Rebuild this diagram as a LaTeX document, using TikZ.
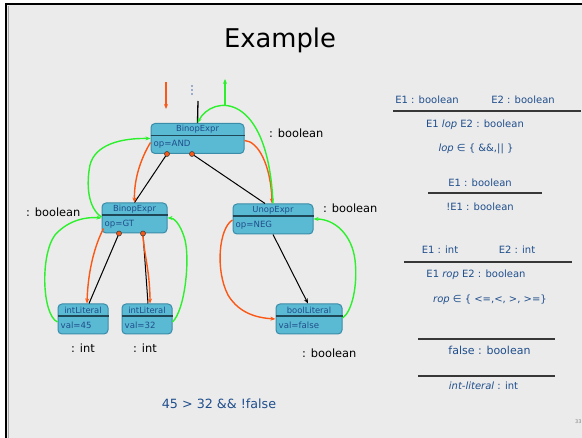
\documentclass[tikz,border=0pt]{standalone}
\usepackage{fontspec}
\setmainfont{DejaVu Sans}
\usetikzlibrary{arrows.meta,calc}

\definecolor{slidebg}{RGB}{235,235,235}
\definecolor{nodefill}{RGB}{91,186,211}
\definecolor{nodeedge}{RGB}{58,140,168}
\definecolor{nodesep}{RGB}{30,72,88}
\definecolor{textblue}{RGB}{31,78,140}
\definecolor{flowgreen}{RGB}{45,240,45}
\definecolor{floworange}{RGB}{250,88,20}
\definecolor{rulegray}{RGB}{55,55,55}

\tikzset{
  astbox/.style={draw=nodeedge, line width=1pt, fill=nodefill, rounded corners=4pt,
    minimum height=30pt, inner sep=0pt},
  sepline/.style={draw=nodesep, line width=1.5pt},
  asttitle/.style={text=textblue, font=\fontsize{8.4}{10}\selectfont, inner sep=0pt},
  astbody/.style={text=textblue, font=\fontsize{8.6}{10}\selectfont, inner sep=0pt, anchor=west},
  portdot/.style={circle, fill=floworange, draw=black!75, line width=0.6pt, inner sep=0pt, minimum size=5pt},
  elldot/.style={circle, fill=textblue!80, inner sep=0pt, minimum size=1.6pt},
  tip/.style={-{Stealth[length=5pt,width=4pt]}},
  greenflow/.style={draw=flowgreen, line width=1.4pt, tip},
  orangeflow/.style={draw=floworange, line width=1.4pt, tip},
  childedge/.style={draw=black, line width=1pt},
  typelabel/.style={text=black, font=\fontsize{11.4}{13}\selectfont, inner sep=0pt, anchor=west},
  ruletext/.style={text=textblue, font=\fontsize{10}{12}\selectfont, inner sep=0pt},
  ruleline/.style={draw=rulegray, line width=1.2pt},
}

% one AST node: name, centre x, centre y, width, class name, attribute
\newcommand\astnode[6]{%
  \node[astbox, minimum width=#4pt] (#1) at (#2,#3) {};
  \draw[sepline] ($(#1.north west)+(0,12.5)$) -- ($(#1.north east)+(0,12.5)$);
  \node[asttitle] (#1-title) at ($(#1.north)+(0,6.5)$) {#5};
  \node[astbody] (#1-body) at ($(#1.north west)+(3,21.5)$) {#6};
}

\begin{document}
\begin{tikzpicture}[x=1pt, y=-1pt]
\useasboundingbox (0,0) rectangle (582,438);

% slide background and frame
\fill[white] (0,0) rectangle (582,438);
\fill[slidebg] (6,4) rectangle (582,438);
\draw[gray!70, line width=1pt] (8.5,438) -- (8.5,6);
\draw[black, line width=2.5pt] (6,438) -- (6,4) -- (582,4);

% title
\node[font=\fontsize{25.8}{30}\selectfont, inner sep=0pt] (title) at (280,40) {Example};

% AST nodes
\astnode{and}{197.5}{138.5}{93}{BinopExpr}{op=AND}
\astnode{gt}{134.5}{218}{65}{BinopExpr}{op=GT}
\astnode{unop}{273}{219}{80}{UnopExpr}{op=NEG}
\astnode{ilA}{83}{319}{50}{intLiteral}{val=45}
\astnode{ilB}{147}{319}{50}{intLiteral}{val=32}
\astnode{bl}{309}{319}{66}{boolLiteral}{val=false}

% attribute ports
\coordinate (and-p1) at ($(and.south)+(-30.5,0)$);
\coordinate (and-p2) at ($(and.south)+(-5.5,0)$);
\coordinate (gt-p1) at ($(gt.south)+(-15.5,0)$);
\coordinate (gt-p2) at ($(gt.south)+(8.5,0)$);

% context above the root
\coordinate (inhTop) at (166,82);
\coordinate (inhEnd) at (166,109);
\coordinate (parentIn) at (198,101);
\coordinate (synStart) at (225,105);
\coordinate (synEnd) at (225,79);
\node[elldot] (ell1) at (192,86) {};
\node[elldot] (ell2) at (192,90) {};
\node[elldot] (ell3) at (192,94) {};

\draw[orangeflow] (inhTop) -- (inhEnd);
\draw[childedge, line width=1.3pt] (parentIn) -- (and.north);
\draw[greenflow] (synStart) -- (synEnd);

% tree edges
\draw[childedge] (and-p1) -- (gt.north);
\draw[childedge] (and-p2) -- ($(unop.north)+(-8,0)$);
\draw[childedge] (gt-p1) -- ($(ilA.north)+(6,0)$);
\draw[childedge] (gt-p2) -- ($(ilB.north)+(1,0)$);
\draw[childedge, tip] (unop.south) -- ($(bl.north)+(-1,0)$);

% inherited flow (orange)
\draw[orangeflow] ($(and.west)+(0,4)$) .. controls (140,160) and (134,180) .. (gt.north);
\draw[orangeflow] ($(and.east)+(0,2)$) .. controls (258,141) and (271,165) .. ($(unop.north)+(-1,0)$);
\draw[orangeflow] ($(gt.south west)+(2,-5)$) .. controls (95,245) and (88,270) .. ($(ilA.north)+(4,0)$);
\draw[orangeflow] (gt-p2) .. controls (143,250) and (150,270) .. ($(ilB.north)+(3,0)$);
\draw[orangeflow] ($(unop.west)+(0,1)$) .. controls (219,228) and (215,270) .. (228,295)
  .. controls (240,315) and (260,318) .. (bl.west);

% synthesized flow (green)
\draw[greenflow] (unop.north) .. controls (268,90) and (212,95) .. (and.north);
\draw[greenflow] ($(gt.west)+(0,-1)$) .. controls (88,208) and (86,185) .. (90,165)
  .. controls (95,145) and (120,138) .. (and.west);
\draw[greenflow] ($(ilA.west)+(0,3)$) .. controls (42,315) and (40,255) .. (55,235)
  .. controls (70,218) and (90,217) .. (gt.west);
\draw[greenflow] ($(ilB.east)+(0,3)$) .. controls (185,310) and (190,260) .. (185,240)
  .. controls (180,222) and (173,218) .. (gt.east);
\draw[greenflow] ($(bl.east)+(0,-1)$) .. controls (352,312) and (358,285) .. (355,260)
  .. controls (352,235) and (335,219) .. (unop.east);

% port dots on top
\node[portdot] (and-d1) at (and-p1) {};
\node[portdot] (and-d2) at (and-p2) {};
\node[portdot] (gt-d1) at (gt-p1) {};
\node[portdot] (gt-d2) at (gt-p2) {};

% type annotations
\node[typelabel] (t-and) at (269,133) {: boolean};
\node[typelabel] (t-gt) at (26,212) {: boolean};
\node[typelabel] (t-unop) at (323,208) {: boolean};
\node[typelabel] (t-ilA) at (71,348) {: int};
\node[typelabel] (t-ilB) at (133,348) {: int};
\node[typelabel] (t-bl) at (302,353) {: boolean};

% expression
\node[text=textblue, font=\fontsize{12.7}{15}\selectfont, inner sep=0pt] (expr) at (219,404) {45 > 32 \&\& !false};

% typing rules
\node[ruletext] (r1a) at (427,100) {E1 : boolean};
\node[ruletext] (r1b) at (523,100) {E2 : boolean};
\draw[ruleline] (393,111) -- (581,111);
\node[ruletext] (r1c) at (475,125) {E1 \textit{lop} E2 : boolean};
\node[ruletext] (r1d) at (476,149) {\textit{lop} ∈ \{ \&\&,|| \}};

\node[ruletext] (r2a) at (480,183) {E1 : boolean};
\draw[ruleline] (428,193) -- (542,193);
\node[ruletext] (r2b) at (480,207) {!E1 : boolean};

\node[ruletext] (r3a) at (440,250) {E1 : int};
\node[ruletext] (r3b) at (517,250) {E2 : int};
\draw[ruleline] (404,262) -- (572,262);
\node[ruletext] (r3c) at (476,275) {E1 \textit{rop} E2 : boolean};
\node[ruletext] (r3d) at (490,300) {\textit{rop} ∈ \{ <=,<, >, >=\}};

\draw[ruleline] (418,339) -- (555,339);
\node[ruletext, font=\fontsize{11}{13}\selectfont] (r4) at (489.5,350) {false : boolean};

\draw[ruleline] (418,376) -- (555,376);
\node[ruletext] (r5) at (483.5,386) {\textit{int-literal} : int};

% page number
\node[text=gray, font=\fontsize{5}{6}\selectfont, inner sep=0pt, anchor=west] (pageno) at (575,422) {33};
\end{tikzpicture}
\end{document}
